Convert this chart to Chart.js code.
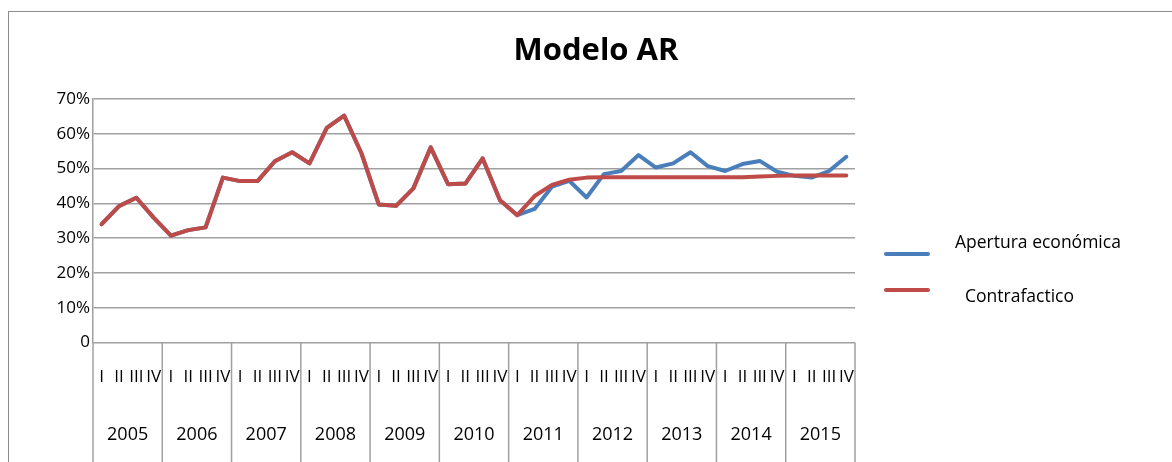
<!DOCTYPE html>
<html><head><meta charset="utf-8">
<script src="https://cdn.jsdelivr.net/npm/chart.js@4/dist/chart.umd.min.js"></script>
<style>html,body{margin:0;padding:0;background:#fff}canvas{display:block}</style>
</head><body>
<canvas id="c" width="1172" height="462"></canvas>
<script>
const title = 'Modelo AR';
const years = ['2005','2006','2007','2008','2009','2010','2011','2012','2013','2014','2015'];
const quarters = ['I','II','III','IV'];
const seriesNames = ['Apertura económica','Contrafactico'];
const apertura = [34.0,39.2,41.6,35.9, 30.7,32.3,33.1,47.4, 46.4,46.4,52.1,54.7, 51.5,61.7,65.2,54.4,
  39.7,39.3,44.3,56.1, 45.5,45.7,52.9,40.9, 36.6,38.4,44.8,46.5, 41.7,48.4,49.3,53.9,
  50.3,51.5,54.7,50.7, 49.3,51.3,52.2,49.1, 47.9,47.4,49.3,53.4];
const contrafactico = [34.0,39.2,41.6,35.9, 30.7,32.3,33.1,47.4, 46.4,46.4,52.1,54.7, 51.5,61.7,65.2,54.4,
  39.7,39.3,44.3,56.1, 45.5,45.7,52.9,40.9, 36.6,42.1,45.3,46.8, 47.4,47.5,47.5,47.5,
  47.5,47.5,47.5,47.5, 47.5,47.5,47.7,47.9, 48.0,48.0,48.0,48.0];
const yTickValues = [0,10,20,30,40,50,60,70];

const categories = [];
years.forEach(y => quarters.forEach(q => categories.push(q)));

const BLUE = '#4a7ebb', RED = '#be4b48', GRID = '#a0a0a0';
const FONT = '"Open Sans", "Liberation Sans", sans-serif';

const decor = {
  id: 'decor',
  beforeDraw(chart) {
    const ctx = chart.ctx;
    ctx.save();
    ctx.fillStyle = '#fff';
    ctx.fillRect(0, 0, chart.width, chart.height);
    ctx.strokeStyle = '#8c8c8c';
    ctx.lineWidth = 1;
    ctx.strokeRect(8.5, 11.5, 1300, 600);
    ctx.restore();
  },
  afterDraw(chart) {
    const ctx = chart.ctx, xs = chart.scales.x, area = chart.chartArea;
    ctx.save();
    const step = xs.getPixelForValue(1) - xs.getPixelForValue(0);
    ctx.strokeStyle = GRID; ctx.lineWidth = 1.5;
    for (let k = 0; k <= years.length; k++) {
      const px = xs.getPixelForValue(k * quarters.length) - step / 2;
      ctx.beginPath(); ctx.moveTo(px, area.bottom); ctx.lineTo(px, chart.height); ctx.stroke();
    }
    ctx.fillStyle = '#000';
    ctx.font = 'bold 31px ' + FONT;
    ctx.textAlign = 'center'; ctx.textBaseline = 'middle';
    ctx.fillText(title, 596, 51);
    const items = [
      {c: BLUE, ly: 254, tx: 955, ty: 243, t: seriesNames[0]},
      {c: RED, ly: 290, tx: 965, ty: 297, t: seriesNames[1]}
    ];
    ctx.font = '17.5px ' + FONT; ctx.textAlign = 'left';
    items.forEach(it => {
      ctx.strokeStyle = it.c; ctx.lineWidth = 4; ctx.lineCap = 'round';
      ctx.beginPath(); ctx.moveTo(886, it.ly); ctx.lineTo(928, it.ly); ctx.stroke();
      ctx.fillStyle = '#000';
      ctx.fillText(it.t, it.tx, it.ty);
    });
    ctx.restore();
  }
};

new Chart(document.getElementById('c'), {
  type: 'line',
  data: {
    labels: categories,
    datasets: [
      {label: seriesNames[0], data: apertura, borderColor: BLUE, backgroundColor: BLUE, borderWidth: 4,
       pointRadius: 0, tension: 0, order: 1, borderCapStyle: 'round', borderJoinStyle: 'round'},
      {label: seriesNames[1], data: contrafactico, borderColor: RED, backgroundColor: RED, borderWidth: 4,
       pointRadius: 0, tension: 0, order: 0, borderCapStyle: 'round', borderJoinStyle: 'round'}
    ]
  },
  options: {
    responsive: false,
    animation: false,
    layout: {padding: {left: 0, top: 99, right: 317, bottom: 0}},
    plugins: {legend: {display: false}, tooltip: {enabled: false}, title: {display: false}},
    scales: {
      y: {
        min: 0, max: 70,
        afterBuildTicks(s) { s.ticks = yTickValues.map(v => ({value: v})); },
        afterFit(s) { s.width = 93; },
        ticks: {color: '#000', font: {family: FONT, size: 17}, padding: 3,
                callback: v => v === 0 ? '0' : v + '%'},
        grid: {color: GRID, lineWidth: 1.5, drawTicks: false},
        border: {display: true, color: GRID, width: 1.5}
      },
      x: {
        type: 'category', offset: true,
        afterFit(s) { s.height = 62; },
        ticks: {color: '#000', font: {family: FONT, size: 17}, autoSkip: false, maxRotation: 0, minRotation: 0, padding: 24},
        grid: {display: false, drawTicks: false},
        border: {display: false}
      },
      x2: {
        type: 'category', position: 'bottom', offset: true, labels: years,
        afterFit(s) { s.height = 57.5; },
        ticks: {color: '#000', font: {family: FONT, size: 18}, autoSkip: false, maxRotation: 0, padding: 20},
        grid: {display: false, drawTicks: false},
        border: {display: false}
      }
    }
  },
  plugins: [decor]
});
</script>
</body></html>
